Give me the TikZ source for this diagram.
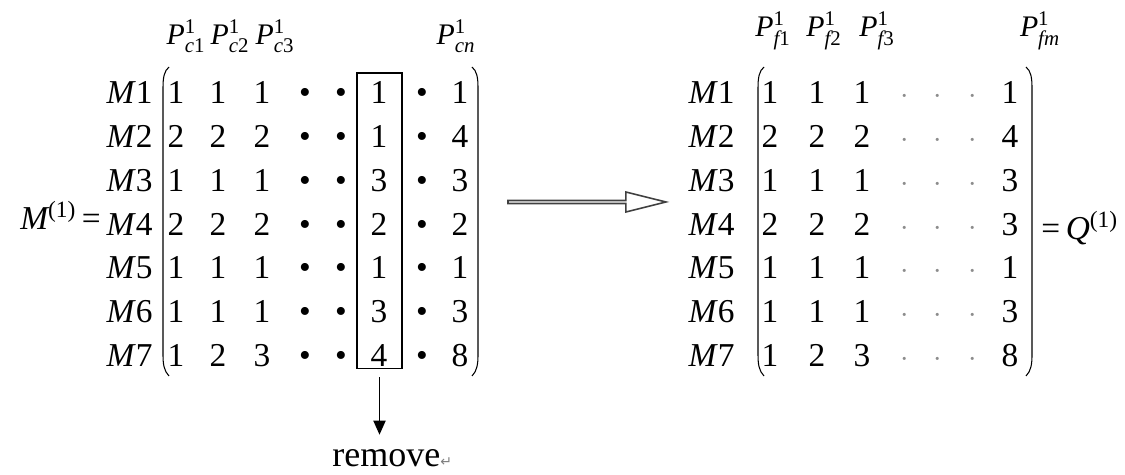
\documentclass[tikz,border=0pt]{standalone}
\usepackage{amsmath}
\usepackage{fontspec}
\setmainfont{Liberation Serif}
\newfontfamily\symfont{DejaVu Sans}
\usetikzlibrary{arrows.meta,shapes.arrows}
\tikzset{>={Triangle[length=8pt,width=7pt]}}
\tikzset{
  entry/.style={inner sep=0pt, anchor=base, font=\fontsize{19}{22}\selectfont},
  rowlab/.style={entry, anchor=base east},
  colhead/.style={inner sep=0pt, anchor=base, font=\fontsize{17}{19}\selectfont},
  paren/.style={line width=0.6pt},
}
\newcommand{\vi}[1]{\textit{#1}}
\newcommand{\colP}[2]{$\vi{P}^{\textrm{1}}_{\vi{#1}\textrm{#2}}$}

\begin{document}
\begin{tikzpicture}[x=0.02cm, y=-0.02cm]
  \useasboundingbox (0,0) rectangle (1125,475);
  % column headers
  \node[colhead] (hc1) at (186,45) {\colP{c}{1}};
  \node[colhead] (hc2) at (230,45) {\colP{c}{2}};
  \node[colhead] (hc3) at (275,45) {\colP{c}{3}};
  \node[colhead] (hcn) at (456,45) {\colP{cn}{}};
  \node[colhead] (hf1) at (773,37) {\colP{f}{1}};
  \node[colhead] (hf2) at (824,37) {\colP{f}{2}};
  \node[colhead] (hf3) at (877,37) {\colP{f}{3}};
  \node[colhead] (hfm) at (1040,37) {\colP{fm}{}};
  % left matrix
  \foreach \a/\b/\c/\d/\e [count=\i] in
      {1/1/1/1/1,2/2/2/1/4,1/1/1/3/3,2/2/2/2/2,1/1/1/1/1,1/1/1/3/3,1/2/3/4/8} {
    \pgfmathsetmacro\yb{104+43.7*(\i-1)}
    \node[rowlab] (lm\i) at (153,\yb) {\vi{M}\i};
    \node[entry] (la\i) at (176,\yb) {\a};
    \node[entry] (lb\i) at (218,\yb) {\b};
    \node[entry] (lc\i) at (262,\yb) {\c};
    \node[entry] (lp\i) at (305,\yb) {\textbullet};
    \node[entry] (lq\i) at (341,\yb) {\textbullet};
    \node[entry] (ld\i) at (379,\yb) {\d};
    \node[entry] (lr\i) at (422,\yb) {\textbullet};
    \node[entry] (le\i) at (460,\yb) {\e};
  }
  % right matrix
  \foreach \a/\b/\c/\e [count=\i] in
      {1/1/1/1,2/2/2/4,1/1/1/3,2/2/2/3,1/1/1/1,1/1/1/3,1/2/3/8} {
    \pgfmathsetmacro\yb{104+43.7*(\i-1)}
    \node[rowlab] (rm\i) at (735,\yb) {\vi{M}\i};
    \node[entry] (ra\i) at (770,\yb) {\a};
    \node[entry] (rb\i) at (817,\yb) {\b};
    \node[entry] (rc\i) at (862,\yb) {\c};
    \foreach \dx [count=\k] in {905,938,973}
      \node[entry, text=black!45] (rd\i-\k) at (\dx,\yb) {$\cdot$};
    \node[entry] (re\i) at (1010,\yb) {\e};
  }
  % brackets
  \foreach \px/\s in {163/1,478/-1,758/1,1032/-1}
    \draw[paren] (\px+6*\s,67) .. controls (\px+\s,71) and (\px,78) .. (\px,88)
      -- (\px,355) .. controls (\px,364) and (\px+\s,371) .. (\px+6*\s,376);
  \node[entry, anchor=base east] (lhs) at (101,230) {$\vi{M}^{\textrm{(1)}}$\,=};
  \node[entry, anchor=base west] (rhs) at (1041,240) {=\,$\vi{Q}^{\textrm{(1)}}$};
  % removed column
  \node (cut) [draw, line width=0.6pt, minimum width=0.9cm, minimum height=5.92cm,
    inner sep=0pt] at (379.5,221) {};
  \node (rem) [inner sep=0pt, anchor=base west, font=\fontsize{20.5}{24}\selectfont]
    at (332,467) {remove{\symfont\fontsize{8}{8}\selectfont\color{black!50}↵}};
  \draw[->, line width=0.6pt, shorten <=0.16cm, shorten >=0.3cm]
    (cut.south) -- (cut.south |- rem.north);
  % transformation arrow
  \node (conv) [single arrow, draw=black!75, line width=0.9pt, inner sep=0pt,
    minimum height=3.16cm, minimum width=0.4cm, single arrow head extend=0.09cm,
    single arrow tip angle=28] at (584,202) {};
\end{tikzpicture}
\end{document}
